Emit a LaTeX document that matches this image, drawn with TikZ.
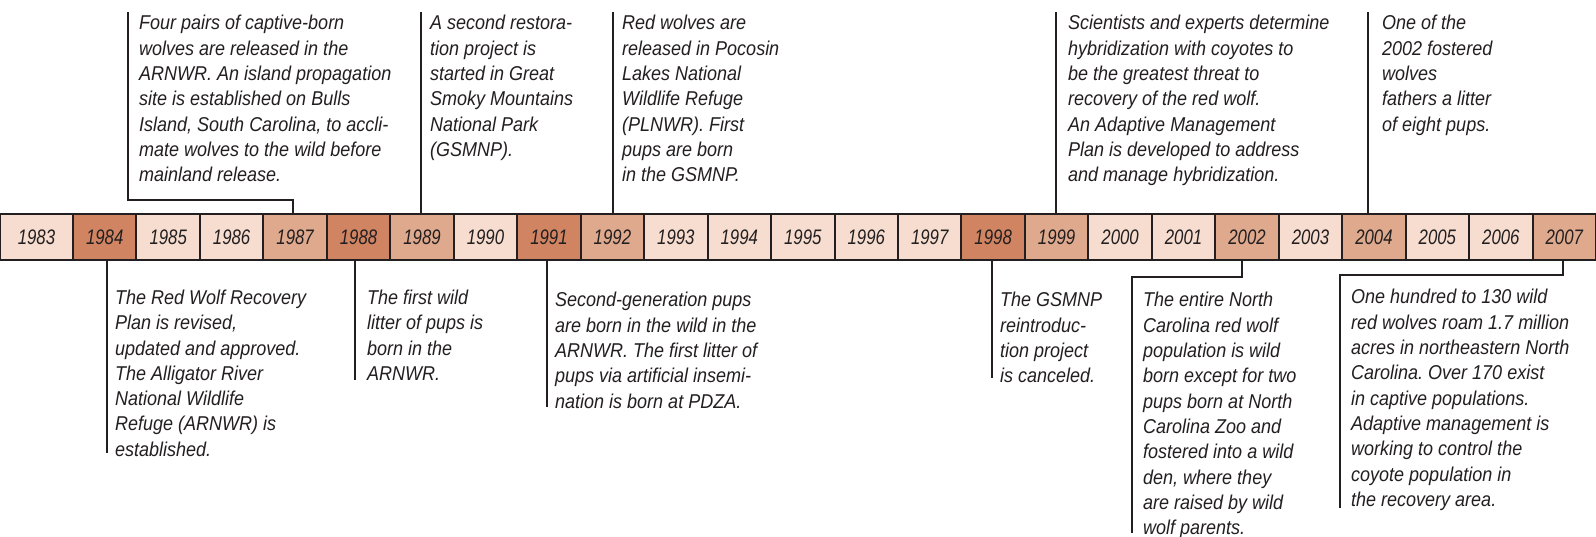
\documentclass[tikz,border=0pt]{standalone}
\usepackage{fontspec}
\setmainfont{Liberation Sans}[FakeStretch=0.9]
\newfontfamily\yearfam{Liberation Sans}[FakeStretch=0.8]
\definecolor{lite}{HTML}{F6DDCF}
\definecolor{midc}{HTML}{DFA98D}
\definecolor{dark}{HTML}{D08462}
\definecolor{ink}{HTML}{231F20}
\newcommand{\anntext}[1]{\parbox[t]{280pt}{\raggedright\fontsize{20}{25.3}\selectfont\itshape #1}}
\tikzset{
  yearbox/.style={draw=ink, line width=2pt, minimum height=46pt, minimum width=63.46pt,
    inner sep=0pt, text=ink, font=\yearfam\itshape\fontsize{21}{21}\selectfont},
  conn/.style={draw=ink, line width=2.4pt, line join=miter},
  ann/.style={anchor=base west, inner sep=0pt, text=ink}
}
\begin{document}
\begin{tikzpicture}[x=1pt,y=-1pt]
\fill[white] (0,0) rectangle (1596,537);
% year boxes
\node[yearbox, fill=lite, minimum width=73pt] (y1983) at (36.5,237) {1983};
\foreach \yr/\col [count=\k] in {1984/dark,1985/lite,1986/lite,1987/midc,1988/dark,1989/midc,1990/lite,1991/dark,1992/midc,1993/lite,1994/lite,1995/lite,1996/lite,1997/lite,1998/dark,1999/midc,2000/lite,2001/lite,2002/midc,2003/lite,2004/midc,2005/lite,2006/lite,2007/midc}{
  \node[yearbox, fill=\col] (y\yr) at ({73+63.46*(\k-1)+31.73},237) {\yr};
}
% connector coordinates (top)
\coordinate (k87) at (293,200);
\coordinate (t87) at (128,12);
\coordinate (t89) at (421,12);
\coordinate (t92) at (613,12);
\coordinate (t99) at (1056,12);
\coordinate (t04) at (1368,12);
% connector coordinates (bottom)
\coordinate (b84) at (107,453);
\coordinate (b88) at (355,380);
\coordinate (b91) at (547,407);
\coordinate (b98) at (992,378);
\coordinate (k02) at (1242,277);
\coordinate (b02) at (1132,533);
\coordinate (k07) at (1563,275);
\coordinate (b07) at (1340,508);
% connectors
\draw[conn] (y1987.north -| k87) -- (k87) -| (t87);
\draw[conn] (y1989.north -| t89) -- (t89);
\draw[conn] (y1992.north -| t92) -- (t92);
\draw[conn] (y1999.north -| t99) -- (t99);
\draw[conn] (y2004.north -| t04) -- (t04);
\draw[conn] (y1984.south -| b84) -- (b84);
\draw[conn] (y1988.south -| b88) -- (b88);
\draw[conn] (y1991.south -| b91) -- (b91);
\draw[conn] (y1998.south -| b98) -- (b98);
\draw[conn] (y2002.south -| k02) -- (k02) -| (b02);
\draw[conn] (y2007.south -| k07) -- (k07) -| (b07);
% annotations (top)
\node[ann] (n1987) at (139,30) {\anntext{Four pairs of captive-born\\wolves are released in the\\ARNWR. An island propagation\\site is established on Bulls\\Island, South Carolina, to accli-\\mate wolves to the wild before\\mainland release.}};
\node[ann] (n1989) at (430,30) {\anntext{A second restora-\\tion project is\\started in Great\\Smoky Mountains\\National Park\\(GSMNP).}};
\node[ann] (n1992) at (622,30) {\anntext{Red wolves are\\released in Pocosin\\Lakes National\\Wildlife Refuge\\(PLNWR). First\\pups are born\\in the GSMNP.}};
\node[ann] (n1999) at (1068,30) {\anntext{Scientists and experts determine\\hybridization with coyotes to\\be the greatest threat to\\recovery of the red wolf.\\An Adaptive Management\\Plan is developed to address\\and manage hybridization.}};
\node[ann] (n2004) at (1382,30) {\anntext{One of the\\2002 fostered\\wolves\\fathers a litter\\of eight pups.}};
% annotations (bottom)
\node[ann] (n1984) at (115,304.5) {\anntext{The Red Wolf Recovery\\Plan is revised,\\updated and approved.\\The Alligator River\\National Wildlife\\Refuge (ARNWR) is\\established.}};
\node[ann] (n1988) at (367,304.5) {\anntext{The first wild\\litter of pups is\\born in the\\ARNWR.}};
\node[ann] (n1991) at (555,307) {\anntext{Second-generation pups\\are born in the wild in the\\ARNWR. The first litter of\\pups via artificial insemi-\\nation is born at PDZA.}};
\node[ann] (n1998) at (1000,307) {\anntext{The GSMNP\\reintroduc-\\tion project\\is canceled.}};
\node[ann] (n2002) at (1143,307) {\anntext{The entire North\\Carolina red wolf\\population is wild\\born except for two\\pups born at North\\Carolina Zoo and\\fostered into a wild\\den, where they\\are raised by wild\\wolf parents.}};
\node[ann] (n2007) at (1351,304) {\anntext{One hundred to 130 wild\\red wolves roam 1.7 million\\acres in northeastern North\\Carolina.\ Over 170 exist\\in captive populations.\\Adaptive management is\\working to control the\\coyote population in\\the recovery area.}};
\pgfresetboundingbox
\path[use as bounding box] (0,0) rectangle (1596,537);
\end{tikzpicture}
\end{document}
